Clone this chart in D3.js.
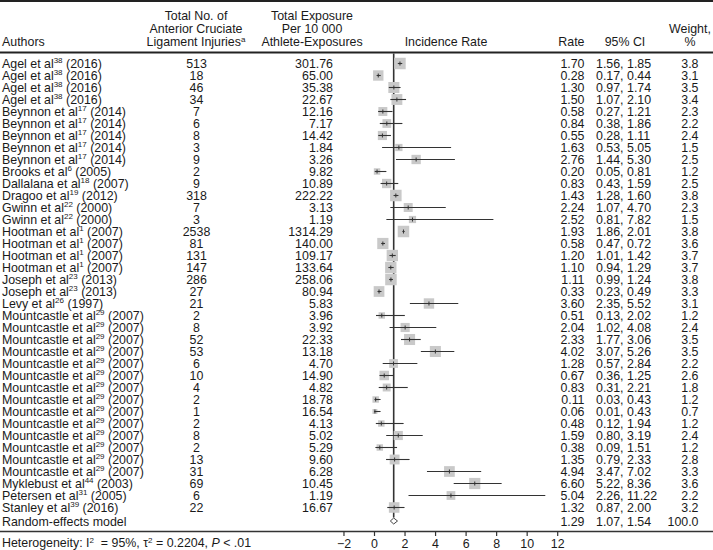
<!DOCTYPE html>
<html><head><meta charset="utf-8">
<script src="https://cdn.jsdelivr.net/npm/d3@7"></script>
<style>
body{margin:0;background:#fff}
text{font-family:"Liberation Sans",Arial,Helvetica,sans-serif;fill:#1a1a1a}
</style>
</head><body>
<svg id="c" width="713" height="550"></svg>
<script>
// ---- data ----
const studyNames = ["Agel","Agel","Agel","Agel","Beynnon","Beynnon","Beynnon","Beynnon","Beynnon","Brooks","Dallalana","Dragoo","Gwinn","Gwinn","Hootman","Hootman","Hootman","Hootman","Joseph","Joseph","Levy","Mountcastle","Mountcastle","Mountcastle","Mountcastle","Mountcastle","Mountcastle","Mountcastle","Mountcastle","Mountcastle","Mountcastle","Mountcastle","Mountcastle","Mountcastle","Mountcastle","Myklebust","Petersen","Stanley"];
const studyRefs = ["38","38","38","38","17","17","17","17","17","6","18","19","22","22","1","1","1","1","23","23","26","29","29","29","29","29","29","29","29","29","29","29","29","29","29","44","31","39"];
const studyYears = ["2016","2016","2016","2016","2014","2014","2014","2014","2014","2005","2007","2012","2000","2000","2007","2007","2007","2007","2013","2013","1997","2007","2007","2007","2007","2007","2007","2007","2007","2007","2007","2007","2007","2007","2007","2003","2005","2016"];
const injuries = [513,18,46,34,7,6,8,3,9,2,9,318,7,3,2538,81,131,147,286,27,21,2,8,52,53,6,10,4,2,1,2,8,2,13,31,69,6,22];
const exposure = ["301.76","65.00","35.38","22.67","12.16","7.17","14.42","1.84","3.26","9.82","10.89","222.22","3.13","1.19","1314.29","140.00","109.17","133.64","258.06","80.94","5.83","3.96","3.92","22.33","13.18","4.70","14.90","4.82","18.78","16.54","4.13","5.02","5.29","9.60","6.28","10.45","1.19","16.67"];
const rates = [1.70,0.28,1.30,1.50,0.58,0.84,0.55,1.63,2.76,0.20,0.83,1.43,2.24,2.52,1.93,0.58,1.20,1.10,1.11,0.33,3.60,0.51,2.04,2.33,4.02,1.28,0.67,0.83,0.11,0.06,0.48,1.59,0.38,1.35,4.94,6.60,5.04,1.32];
const ciLow = [1.56,0.17,0.97,1.07,0.27,0.38,0.28,0.53,1.44,0.05,0.43,1.28,1.07,0.81,1.86,0.47,1.01,0.94,0.99,0.23,2.35,0.13,1.02,1.77,3.07,0.57,0.36,0.31,0.03,0.01,0.12,0.80,0.09,0.79,3.47,5.22,2.26,0.87];
const ciHigh = [1.85,0.44,1.74,2.10,1.21,1.86,1.11,5.05,5.30,0.81,1.59,1.60,4.70,7.82,2.01,0.72,1.42,1.29,1.24,0.49,5.52,2.02,4.08,3.06,5.26,2.84,1.25,2.21,0.43,0.43,1.94,3.19,1.51,2.33,7.02,8.36,11.22,2.00];
const weights = [3.8,3.1,3.5,3.4,2.3,2.2,2.4,1.5,2.5,1.2,2.5,3.8,2.3,1.5,3.8,3.6,3.7,3.7,3.8,3.3,3.1,1.2,2.4,3.5,3.5,2.2,2.6,1.8,1.2,0.7,1.2,2.4,1.2,2.8,3.3,3.6,2.2,3.2];
const summary = {label:"Random-effects model", rate:1.29, lo:1.07, hi:1.54, weight:"100.0"};
const xTicks = [-2,0,2,4,6,8,10,12];
const heterogeneity = ["Heterogeneity: I","2","\u00a0 = 95%, τ","2"," = 0.2204, ","P"," < .01"];

// ---- drawing ----
const W = 713, H = 550, FS = 12.4;
const svg = d3.select("#c");
const fmt2 = d3.format(".2f"), fmt1 = d3.format(".1f");

const x = d3.scaleLinear().domain([0, 12]).range([374, 557.2]);
const rowIdx = d3.range(rates.length);
const y = d3.scalePoint().domain(rowIdx).range([63.5, 63.5 + 12 * (rates.length - 1)]);
const ySum = 521;
const box = d3.scaleSqrt().domain([0, 3.8]).range([0, 11.5]);
const BL = 4.4; // baseline offset from row center

// rules
svg.append("line").attr("x1",0).attr("x2",W).attr("y1",1).attr("y2",1).attr("stroke","#222").attr("stroke-width",2);
svg.append("line").attr("x1",0).attr("x2",W).attr("y1",52.5).attr("y2",52.5).attr("stroke","#222").attr("stroke-width",1.8);

// headers
function hdr(lines, cx, anchor){
  const base = 46 - 13*(lines.length-1);
  lines.forEach((l,i)=>{
    const t = svg.append("text").attr("x",cx).attr("y",base+13*i).attr("text-anchor",anchor).attr("font-size",FS);
    if (Array.isArray(l)) {
      t.append("tspan").text(l[0]);
      t.append("tspan").attr("font-size",8).attr("dy",-4.5).text(l[1]);
    } else t.text(l);
  });
}
hdr(["Authors"], 2, "start");
hdr(["Total No. of","Anterior Cruciate",["Ligament Injuries","a"]], 196, "middle");
hdr(["Total Exposure","Per 10 000","Athlete-Exposures"], 312, "middle");
hdr(["Incidence Rate"], 446, "middle");
hdr(["Rate"], 584.5, "end");
hdr(["95% CI"], 625, "middle");
hdr(["Weight,","%"], 690, "middle");

// study rows text
const rows = svg.append("g");
rowIdx.forEach(i=>{
  const yb = y(i) + BL;
  const t = rows.append("text").attr("x",2).attr("y",yb).attr("font-size",FS);
  t.append("tspan").text(studyNames[i] + " et al");
  t.append("tspan").attr("font-size",8).attr("dy",-4.5).text(studyRefs[i]);
  t.append("tspan").attr("dy",4.5).text(" (" + studyYears[i] + ")");
  rows.append("text").attr("x",196.5).attr("y",yb).attr("text-anchor","middle").attr("font-size",FS).text(injuries[i]);
  rows.append("text").attr("x",333).attr("y",yb).attr("text-anchor","end").attr("font-size",FS).text(exposure[i]);
  rows.append("text").attr("x",584.5).attr("y",yb).attr("text-anchor","end").attr("font-size",FS).text(fmt2(rates[i]));
  rows.append("text").attr("x",596).attr("y",yb).attr("text-anchor","start").attr("font-size",FS).text(fmt2(ciLow[i]) + ", " + fmt2(ciHigh[i]));
  rows.append("text").attr("x",698.5).attr("y",yb).attr("text-anchor","end").attr("font-size",FS).text(fmt1(weights[i]));
});

// summary row text
const ys = ySum + BL + 1;
svg.append("text").attr("x",2).attr("y",ys).attr("font-size",FS).text(summary.label);
svg.append("text").attr("x",584.5).attr("y",ys).attr("text-anchor","end").attr("font-size",FS).text(fmt2(summary.rate));
svg.append("text").attr("x",596).attr("y",ys).attr("font-size",FS).text(fmt2(summary.lo) + ", " + fmt2(summary.hi));
svg.append("text").attr("x",698.5).attr("y",ys).attr("text-anchor","end").attr("font-size",FS).text(summary.weight);

// reference line at summary estimate
svg.append("line").attr("x1",x(summary.rate)).attr("x2",x(summary.rate))
  .attr("y1",53.5).attr("y2",ySum-3.5).attr("stroke","#333").attr("stroke-width",1.6);

// boxes
const marks = svg.append("g");
marks.selectAll("rect").data(rowIdx).join("rect")
  .attr("x",i=>x(rates[i]) - box(weights[i])/2)
  .attr("y",i=>y(i) - box(weights[i])/2)
  .attr("width",i=>box(weights[i])).attr("height",i=>box(weights[i]))
  .attr("fill","#c9c9c9");
// CI lines
marks.selectAll("line.ci").data(rowIdx).join("line").attr("class","ci")
  .attr("x1",i=>x(ciLow[i])).attr("x2",i=>x(ciHigh[i]))
  .attr("y1",i=>y(i)).attr("y2",i=>y(i)).attr("stroke","#333").attr("stroke-width",1.1);
// point ticks
marks.selectAll("line.pt").data(rowIdx).join("line").attr("class","pt")
  .attr("x1",i=>x(rates[i])).attr("x2",i=>x(rates[i]))
  .attr("y1",i=>y(i)-2).attr("y2",i=>y(i)+2).attr("stroke","#333").attr("stroke-width",1);

// summary diamond
const dh = 3;
svg.append("path")
  .attr("d",`M${x(summary.lo)},${ySum}L${x(summary.rate)},${ySum-dh}L${x(summary.hi)},${ySum}L${x(summary.rate)},${ySum+dh}Z`)
  .attr("fill","#fff").attr("stroke","#444").attr("stroke-width",1);

// bottom rule + axis
const axY = 531.5;
svg.append("line").attr("x1",0).attr("x2",W).attr("y1",axY).attr("y2",axY).attr("stroke","#333").attr("stroke-width",1.4);
const ax = svg.append("g").attr("transform",`translate(0,${axY})`)
  .call(d3.axisBottom(x).tickValues(xTicks).tickSize(4.5).tickPadding(3).tickFormat(d=>d<0?"\u2212"+Math.abs(d):d));
ax.select(".domain").remove();
ax.selectAll("line").attr("stroke","#333").attr("stroke-width",1.2);
ax.selectAll("text").attr("font-size",FS).attr("font-family",'"Liberation Sans",Arial,sans-serif').attr("fill","#1a1a1a");

// heterogeneity
const ht = svg.append("text").attr("x",2).attr("y",547).attr("font-size",FS);
heterogeneity.forEach((s,i)=>{
  const sp = ht.append("tspan").text(s);
  if (s === "2") { sp.attr("font-size",8).attr("dy",-4.5); }
  else if (i>0 && heterogeneity[i-1]==="2") sp.attr("dy",4.5);
  if (s === "P") sp.attr("font-style","italic");
});
</script>
</body></html>
